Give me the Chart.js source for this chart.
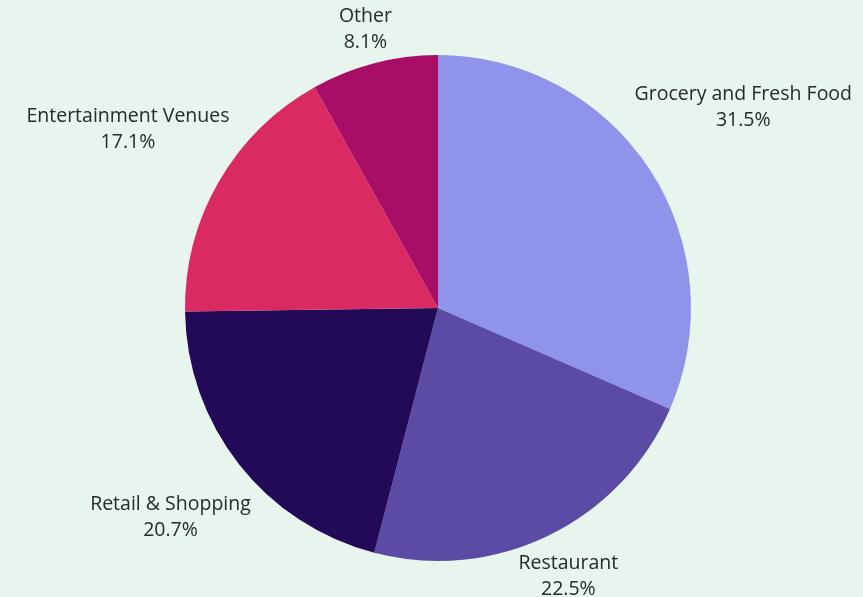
<!DOCTYPE html>
<html>
<head>
<meta charset="utf-8">
<script src="https://cdn.jsdelivr.net/npm/chart.js@4/dist/chart.umd.min.js"></script>
<style>
  html, body { margin: 0; padding: 0; background: #e8f4ee; }
  #wrap { width: 863px; height: 597px; position: relative; }
</style>
</head>
<body>
<div id="wrap"><canvas id="pie"></canvas></div>
<script>
// Данные диаграммы
const categories = ['Grocery and Fresh Food', 'Restaurant', 'Retail & Shopping', 'Entertainment Venues', 'Other'];
const shares = [31.5, 22.5, 20.7, 17.1, 8.1];

// Стили
const sliceColors = ['#8f94ea', '#5b4ba4', '#230a58', '#d92b61', '#a80e66'];
const labelDistance = [365, 298, 340, 358, 288]; // расстояние подписи от центра

// Подписи снаружи круга
const outsideLabels = {
    id: 'outsideLabels',
    afterDraw(chart) {
        const ctx = chart.ctx;
        const meta = chart.getDatasetMeta(0);
        ctx.save();
        ctx.font = '19.5px "Open Sans", sans-serif';
        ctx.fillStyle = '#262a28';
        ctx.textAlign = 'center';
        ctx.textBaseline = 'middle';
        meta.data.forEach((arc, i) => {
            const mid = (arc.startAngle + arc.endAngle) / 2;
            const x = arc.x + Math.cos(mid) * labelDistance[i];
            const y = arc.y + Math.sin(mid) * labelDistance[i];
            ctx.fillText(categories[i], x, y - 13);
            ctx.fillText(shares[i].toFixed(1) + '%', x, y + 13);
        });
        ctx.restore();
    }
};

new Chart(document.getElementById('pie').getContext('2d'), {
    type: 'pie',
    data: {
        labels: categories,
        datasets: [{
            data: shares,
            backgroundColor: sliceColors,
            borderWidth: 0
        }]
    },
    options: {
        responsive: true,
        maintainAspectRatio: false,
        animation: false,
        layout: { padding: { left: 185, right: 172, top: 55, bottom: 36 } },
        plugins: {
            legend: { display: false },
            tooltip: { enabled: false }
        }
    },
    plugins: [outsideLabels]
});
</script>
</body>
</html>
